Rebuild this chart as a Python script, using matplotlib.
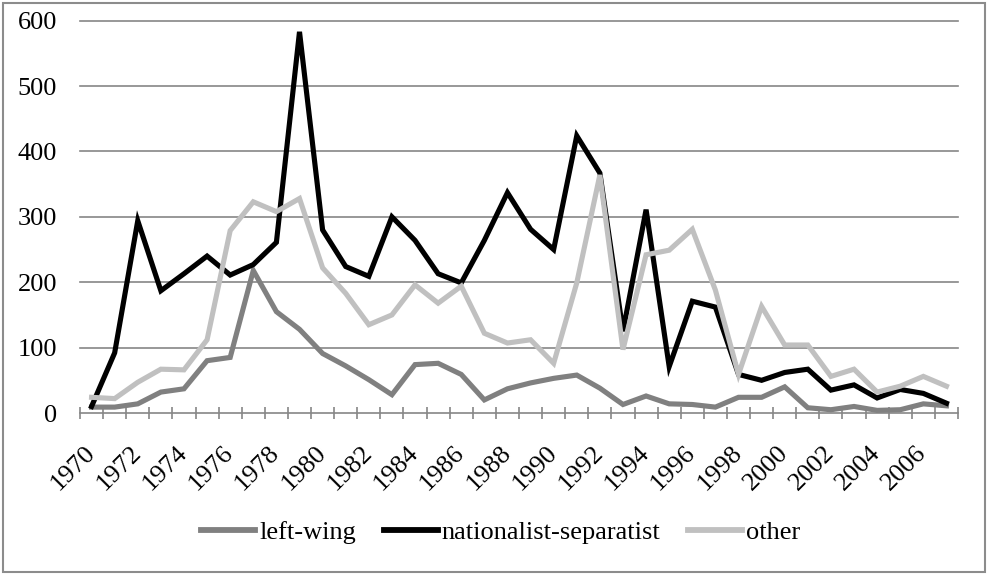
import numpy as np
import matplotlib.pyplot as plt
from matplotlib.patches import Rectangle

years = list(range(1970, 2008))

left_wing = [9, 9, 14, 32, 37, 80, 85, 218, 155, 128, 91, 72,
             51, 28, 74, 76, 59, 20, 37, 46, 53, 58, 38, 13,
             26, 14, 13, 9, 24, 24, 40, 8, 5, 10, 4, 5, 14, 11]
nationalist = [10, 92, 294, 187, 213, 240, 211, 227, 261, 583, 280, 224,
               209, 300, 264, 213, 199, 264, 337, 281, 250, 424, 367, 125,
               311, 71, 171, 162, 59, 50, 62, 67, 35, 43, 23, 36, 30, 15]
other = [24, 22, 47, 67, 66, 112, 279, 323, 308, 328, 222, 183,
         135, 150, 196, 168, 194, 122, 107, 112, 76, 199, 364, 97,
         242, 249, 281, 188, 59, 163, 104, 104, 56, 67, 32, 41, 56, 41]

series_names = ["left-wing", "nationalist-separatist", "other"]
series_colors = ["#808080", "#000000", "#c0c0c0"]
yticks = [0, 100, 200, 300, 400, 500, 600]

plt.rcParams['font.family'] = ['Liberation Serif', 'DejaVu Serif']

W, H = 989, 575
fig = plt.figure(figsize=(W / 100, H / 100), dpi=100)
ax = fig.add_axes([80 / W, (H - 413) / H, (958 - 80) / W, (413 - 20.7) / H])

# outer chart border
fig.patches.append(Rectangle((3 / W, 3 / H), (985 - 3) / W, (572 - 3) / H,
                             transform=fig.transFigure, fill=False,
                             edgecolor="#8c8c8c", linewidth=1.5))

x = np.arange(len(years))

# gridlines
for v in yticks[1:]:
    ax.axhline(v, color="#868686", linewidth=1.2, zorder=1, clip_on=False)

for vals, name, col in zip([left_wing, nationalist, other], series_names, series_colors):
    ax.plot(x, vals, color=col, linewidth=3.7, label=name, zorder=3,
            solid_joinstyle="miter", clip_on=False)

ax.set_xlim(-0.5, len(years) - 0.5)
ax.set_ylim(0, 600)

for s in ["top", "right", "left"]:
    ax.spines[s].set_visible(False)
ax.spines["bottom"].set_color("#868686")
ax.spines["bottom"].set_linewidth(1.2)

ax.set_yticks(yticks)
ax.set_yticklabels([str(v) for v in yticks])
ax.tick_params(axis="y", length=0, pad=16.5, labelsize=19)

ax.set_xticks(x[::2])
ax.set_xticklabels([str(y) for y in years[::2]], rotation=45, ha="right",
                   va="center", rotation_mode="anchor")
ax.tick_params(axis="x", which="major", length=0, pad=26, labelsize=19)
ax.set_xticks(np.arange(-0.5, len(years), 1), minor=True)
ax.tick_params(axis="x", which="minor", length=8, direction="inout",
               color="#868686", width=1.2)

leg = fig.legend(loc="center", bbox_to_anchor=(501 / W, (H - 532) / H), ncol=3,
                 frameon=False, fontsize=19, handlelength=2.05, handletextpad=0.15,
                 columnspacing=1.05)
for h in leg.get_lines():
    h.set_linewidth(4.2)

fig.savefig("out.png", dpi=100)
